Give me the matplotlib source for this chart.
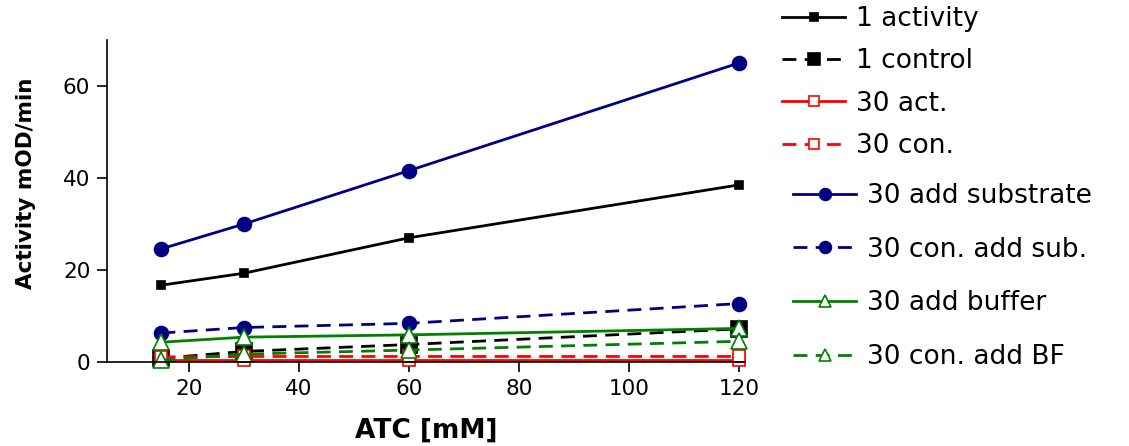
import matplotlib
matplotlib.use("Agg")
import matplotlib.pyplot as plt
from matplotlib.lines import Line2D

plt.rcParams['font.family'] = ['DejaVu Sans']

atc = [15, 30, 60, 120]

act_1 = [16.7, 19.3, 27.0, 38.5]
con_1 = [0.8, 2.3, 3.8, 7.2]
act_30 = [0.5, 0.5, 0.5, 0.5]
con_30 = [1.1, 1.2, 1.2, 1.2]
add_sub_30 = [24.6, 30.0, 41.6, 65.0]
con_add_sub_30 = [6.3, 7.5, 8.4, 12.7]
add_buf_30 = [4.3, 5.4, 5.9, 7.3]
con_add_bf_30 = [0.4, 1.7, 2.6, 4.5]

labels = ["1 activity", "1 control", "30 act.", "30 con.",
          "30 add substrate", "30 con. add sub.", "30 add buffer", "30 con. add BF"]

W, H = 1129, 446
fig = plt.figure(figsize=(W / 100, H / 100), dpi=100)
ax = fig.add_axes([107 / W, 1 - 362 / H, 638 / W, 322 / H])

LW = 2.0
DASH = (5, 3)

# (values, colour, linestyle, marker, size, face)
series = [
    (act_1, "black", "-", "s", 6, "black"),
    (con_1, "black", "--", "s", 11, "black"),
    (act_30, "red", "-", "s", 9, "white"),
    (con_30, "red", "--", "s", 9, "white"),
    (add_sub_30, "#000080", "-", "o", 10, "#000080"),
    (con_add_sub_30, "#000080", "--", "o", 10, "#000080"),
    (add_buf_30, "#008000", "-", "^", 11, "white"),
    (con_add_bf_30, "#008000", "--", "^", 11, "white"),
]

handles = []
for (vals, col, ls, mk, ms, fc), lab in zip(series, labels):
    kw = dict(color=col, lw=LW, marker=mk, markersize=ms,
              markerfacecolor=fc, markeredgecolor=col, markeredgewidth=1.2,
              clip_on=False)
    if ls == "--":
        kw["dashes"] = DASH
    ax.plot(atc, vals, **kw)
    hk = dict(kw, markersize=ms * 0.85)
    handles.append(Line2D([], [], label=lab, **hk))

ax.set_xlim(5.1, 121.1)
ax.set_ylim(0, 70)
ax.set_xticks([20, 40, 60, 80, 100, 120])
ax.set_yticks([0, 20, 40, 60])
for s in ("top", "right"):
    ax.spines[s].set_visible(False)
for s in ("left", "bottom"):
    ax.spines[s].set_linewidth(1.2)
ax.tick_params(direction="out", length=7, width=1.2, labelsize=15.5, pad=5)

ax.set_xlabel("ATC [mM]", fontsize=19, fontweight="bold", labelpad=14)
fig.text(26 / W, 1 - 183 / H, "Activity mOD/min", rotation=90,
         ha="center", va="center", fontsize=15.5, fontweight="bold")

leg_kw = dict(frameon=False, fontsize=19, handlelength=2.4, handletextpad=0.4,
              borderaxespad=0, borderpad=0, bbox_transform=fig.transFigure)
leg1 = ax.legend(handles=handles[:4], loc="upper left",
                 bbox_to_anchor=(782 / W, 1 - 6 / H), labelspacing=0.62, **leg_kw)
ax.add_artist(leg1)
ax.legend(handles=handles[4:], loc="upper left",
          bbox_to_anchor=(793 / W, 1 - 183 / H), labelspacing=1.05, **leg_kw)

fig.savefig("out.png", dpi=100)
